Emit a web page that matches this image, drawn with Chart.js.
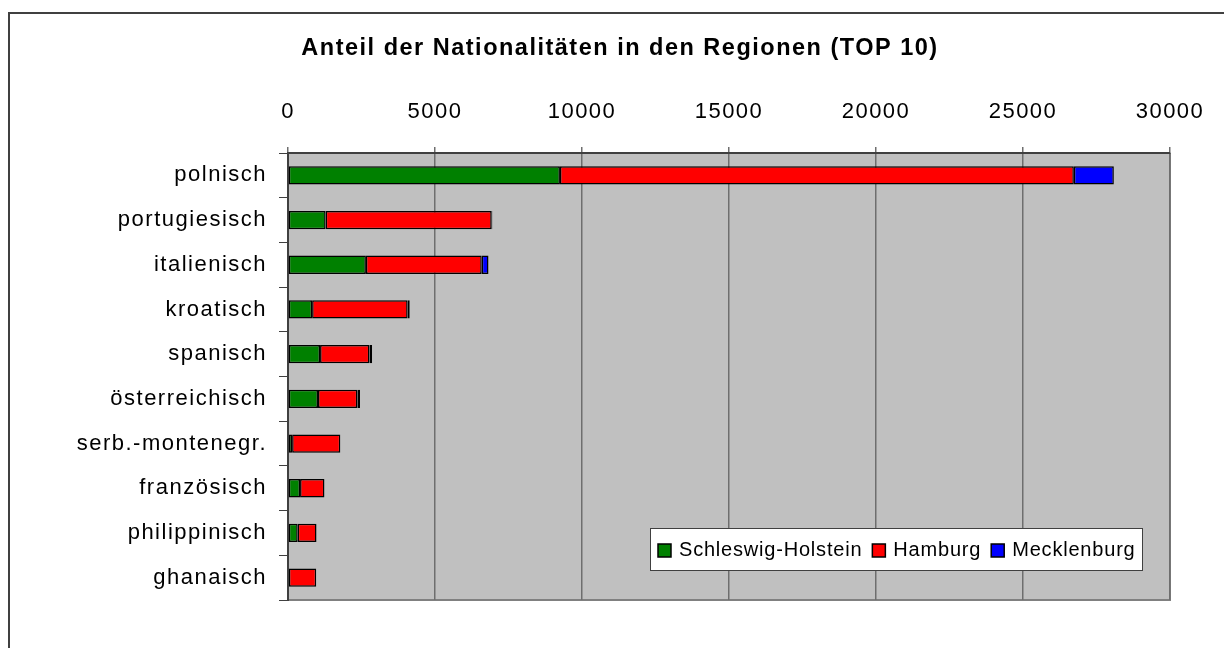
<!doctype html>
<html lang="de">

<head>
    <meta charset="utf-8">
    <title>Anteil der Nationalitäten in den Regionen (TOP 10)</title>
    <style>
        * {
            margin: 0;
            padding: 0;
        }

        body {
            background: white;
            overflow: hidden;
        }

        .chartBox {
            width: 1224px;
            height: 648px;
            position: relative;
        }
    </style>
</head>

<body>
    <div class="chartBox">
        <canvas id="myChart"></canvas>
    </div>

    <script src="https://cdn.jsdelivr.net/npm/chart.js"></script>

    <script>
        const nationalities = [
            'polnisch',
            'portugiesisch',
            'italienisch',
            'kroatisch',
            'spanisch',
            'österreichisch',
            'serb.-montenegr.',
            'französisch',
            'philippinisch',
            'ghanaisch'
        ]

        const schleswigHolstein = [9250, 1280, 2650, 820, 1090, 1020, 140, 410, 330, 30]
        const hamburg = [17480, 5650, 3940, 3250, 1680, 1340, 1640, 830, 640, 930]
        const mecklenburg = [1360, 20, 230, 70, 90, 90, 0, 0, 0, 0]

        const xMax = 30000
        const xStep = 5000

        const fontFamily = "'Liberation Sans', Arial, sans-serif"

        // letter spacing like the old office chart
        const spacingPlugin = {
            id: 'spacing',
            beforeUpdate(chart) { chart.ctx.letterSpacing = '1.5px' },
            beforeLayout(chart) { chart.ctx.letterSpacing = '1.5px' },
            beforeDraw(chart) { chart.ctx.letterSpacing = '1.5px' }
        }

        // outer frame + grey plot area
        const backgroundPlugin = {
            id: 'plotBackground',
            beforeDraw(chart) {
                const { ctx, chartArea: a } = chart
                ctx.save()
                ctx.strokeStyle = '#404040'
                ctx.lineWidth = 2
                ctx.beginPath()
                ctx.moveTo(9, 648)
                ctx.lineTo(9, 13)
                ctx.lineTo(1224, 13)
                ctx.stroke()
                ctx.fillStyle = '#c0c0c0'
                ctx.fillRect(a.left, a.top, a.right - a.left, a.bottom - a.top)
                ctx.strokeStyle = '#808080'
                ctx.beginPath()
                ctx.moveTo(a.left, a.bottom)
                ctx.lineTo(a.right, a.bottom)
                ctx.lineTo(a.right, a.top)
                ctx.stroke()
                ctx.restore()
            }
        }

        // legend box sits inside the plot, bottom right
        const legendPlugin = {
            id: 'insideLegend',
            afterDatasetsDraw(chart) {
                const { ctx, chartArea: a } = chart
                const boxW = 492, boxH = 42
                const x0 = a.right - 28 - boxW
                const y0 = a.bottom - 30 - boxH
                ctx.save()
                ctx.letterSpacing = '0.8px'
                ctx.fillStyle = 'white'
                ctx.fillRect(x0, y0, boxW, boxH)
                ctx.strokeStyle = '#404040'
                ctx.lineWidth = 1
                ctx.strokeRect(x0 + 0.5, y0 + 0.5, boxW, boxH)
                ctx.font = '20px ' + fontFamily
                ctx.textBaseline = 'middle'
                let x = x0 + 8
                const cy = y0 + boxH / 2 + 1
                chart.data.datasets.forEach(ds => {
                    ctx.fillStyle = ds.backgroundColor
                    ctx.fillRect(x, cy - 6, 13, 13)
                    ctx.strokeStyle = '#000'
                    ctx.lineWidth = 1.5
                    ctx.strokeRect(x, cy - 6, 13, 13)
                    x += 21
                    ctx.fillStyle = '#000'
                    ctx.fillText(ds.label, x, cy)
                    x += ctx.measureText(ds.label).width + 10
                })
                ctx.restore()
            }
        }

        const data = {
            labels: nationalities,
            datasets: [{
                label: 'Schleswig-Holstein',
                data: schleswigHolstein,
                backgroundColor: '#008000'
            }, {
                label: 'Hamburg',
                data: hamburg,
                backgroundColor: '#ff0000'
            }, {
                label: 'Mecklenburg',
                data: mecklenburg,
                backgroundColor: '#0000ff'
            }]
        }

        const config = {
            type: 'bar',
            data: data,
            options: {
                responsive: true,
                maintainAspectRatio: false,
                animation: false,
                indexAxis: 'y',
                borderColor: '#000',
                borderWidth: 1.5,
                borderSkipped: false,
                categoryPercentage: 1,
                barPercentage: 0.41,
                layout: {
                    padding: { left: 70, right: 54, top: 0, bottom: 48 }
                },
                plugins: {
                    legend: { display: false },
                    tooltip: { enabled: false },
                    title: {
                        display: true,
                        text: 'Anteil der Nationalitäten in den Regionen (TOP 10)',
                        color: '#000',
                        font: { family: fontFamily, size: 23.5, weight: 'bold', lineHeight: 1.2 },
                        padding: { top: 34, bottom: 0 }
                    }
                },
                scales: {
                    x: {
                        position: 'top',
                        stacked: true,
                        min: 0,
                        max: xMax,
                        ticks: {
                            stepSize: xStep,
                            color: '#000',
                            padding: 22,
                            maxRotation: 0,
                            font: { family: fontFamily, size: 22 },
                            callback: value => String(value)
                        },
                        grid: {
                            color: '#6e6e6e',
                            lineWidth: 1.5,
                            tickLength: 6
                        },
                        border: { color: '#404040', width: 2 },
                        afterFit(scale) {
                            scale.height = 90.8
                            scale.paddingRight = 36
                        }
                    },
                    y: {
                        stacked: true,
                        ticks: {
                            color: '#000',
                            padding: 12,
                            font: { family: fontFamily, size: 22 }
                        },
                        grid: {
                            drawOnChartArea: false,
                            color: '#404040',
                            tickLength: 9
                        },
                        border: { color: '#404040', width: 2 },
                        afterFit(scale) { scale.width = 218 }
                    }
                }
            },
            plugins: [spacingPlugin, backgroundPlugin, legendPlugin]
        }

        const myChart = new Chart(
            document.getElementById('myChart'),
            config
        )
    </script>

</body>

</html>
